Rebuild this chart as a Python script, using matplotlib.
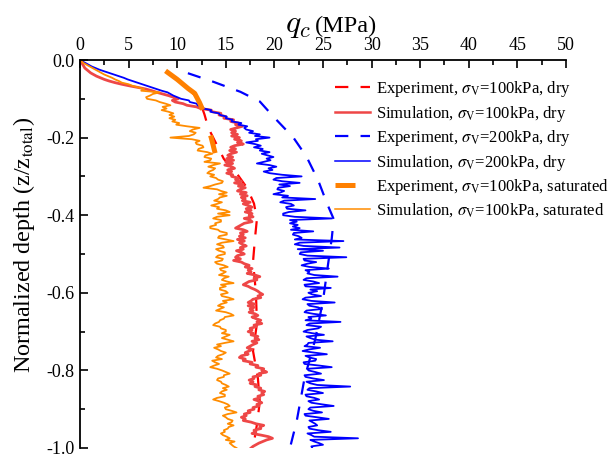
import numpy as np
import matplotlib
matplotlib.use("Agg")
from matplotlib import pyplot as plt
from matplotlib.lines import Line2D
from matplotlib.ticker import MultipleLocator, FormatStrFormatter

plt.rcParams['font.family'] = 'serif'
plt.rcParams['font.serif'] = ['Liberation Serif', 'DejaVu Serif']
plt.rcParams['mathtext.fontset'] = 'stix'
plt.rcParams['axes.unicode_minus'] = False

# simulated cone resistance (MPa), sampled every 1/240 of the normalized depth
# one row per 0.05 of depth
n_sim = 241
sim_100_dry = [
    0.0, 0.1, 0.2, 0.3, 0.4, 0.5, 0.7, 0.9, 1.1, 1.4, 1.7, 2.1,
    2.5, 3.0, 3.6, 4.3, 5.1, 6.0, 6.8, 7.4, 7.9, 8.5, 9.1, 9.6,
    10.1, 9.5, 9.8, 10.6, 11.0, 12.0, 12.4, 13.5, 13.6, 14.5, 14.3, 15.0,
    14.8, 15.8, 15.5, 16.3, 16.0, 16.7, 16.1, 15.5, 16.0, 15.6, 16.2, 15.6,
    16.4, 15.9, 16.6, 16.2, 16.8, 15.9, 15.5, 16.0, 15.4, 16.1, 15.5, 15.2,
    15.7, 15.1, 15.8, 15.0, 15.7, 14.9, 15.6, 15.9, 15.2, 15.6, 15.1, 15.7,
    15.6, 16.3, 16.0, 16.6, 15.9, 16.8, 16.3, 17.0, 16.5, 16.2, 17.1, 16.5,
    17.2, 16.6, 17.0, 16.7, 17.5, 16.8, 17.3, 17.7, 17.1, 17.6, 17.0, 17.7,
    17.4, 17.8, 16.9, 17.5, 17.7, 16.9, 16.6, 16.3, 16.0, 16.8, 17.2, 16.5,
    16.8, 16.4, 17.0, 16.2, 16.9, 16.4, 16.7, 17.1, 16.5, 16.8, 16.1, 16.6,
    16.9, 16.2, 16.0, 16.5, 15.8, 16.6, 16.9, 17.4, 17.0, 17.7, 17.3, 17.6,
    17.2, 18.0, 18.5, 17.9, 18.2, 17.4, 17.1, 16.8, 17.3, 17.6, 18.0, 18.3,
    18.5, 18.8, 18.3, 18.6, 17.8, 17.6, 17.3, 18.0, 17.3, 17.9, 17.5, 17.8,
    17.4, 18.0, 18.3, 17.7, 18.1, 18.6, 18.2, 18.7, 17.9, 18.1, 17.5, 17.7,
    17.3, 17.8, 17.6, 18.3, 18.0, 18.4, 17.7, 18.2, 17.8, 17.5, 17.2, 17.7,
    17.4, 17.0, 17.3, 16.6, 16.4, 17.0, 16.8, 17.7, 17.5, 18.3, 18.1, 18.9,
    18.7, 19.2, 18.4, 18.6, 17.8, 17.9, 17.4, 17.8, 17.5, 18.2, 18.0, 18.6,
    18.4, 19.0, 18.7, 18.9, 18.3, 18.5, 17.9, 18.4, 18.7, 18.2, 18.4, 17.8,
    17.9, 17.3, 17.5, 16.9, 17.1, 16.6, 17.0, 16.8, 17.6, 18.1, 18.9, 18.5,
    18.6, 17.9, 18.1, 17.7, 18.6, 19.4, 19.8, 19.2, 18.8, 18.4, 18.1, 17.8,
    17.6,
]
sim_200_dry = [
    0.0, 0.3, 0.6, 0.9, 1.2, 1.6, 2.0, 2.5, 3.0, 3.5, 4.0, 4.5,
    4.9, 5.4, 5.9, 6.4, 6.9, 7.4, 7.9, 8.4, 9.0, 9.3, 9.6, 10.0,
    10.4, 11.2, 11.3, 12.0, 12.1, 12.6, 12.7, 13.5, 13.4, 14.3, 14.4, 15.1,
    15.0, 15.7, 15.6, 16.6, 16.3, 17.2, 16.9, 17.1, 17.8, 17.4, 18.5, 18.0,
    19.5, 18.1, 18.3, 17.1, 18.0, 18.6, 17.9, 18.8, 18.5, 19.5, 18.7, 19.3,
    19.9, 19.2, 19.6, 18.9, 18.2, 19.5, 20.2, 19.4, 19.8, 18.9, 19.5, 20.8,
    22.8, 20.2, 19.9, 20.8, 22.6, 20.5, 21.6, 20.4, 20.3, 21.0, 20.6, 19.9,
    21.4, 20.8, 24.2, 21.0, 20.6, 21.7, 22.0, 21.2, 21.3, 23.2, 21.5, 20.9,
    20.9, 22.1, 25.9, 21.6, 22.3, 21.6, 22.4, 21.9, 22.6, 21.7, 24.0, 22.0,
    21.9, 22.5, 22.8, 22.1, 27.1, 22.6, 22.1, 23.0, 26.7, 22.4, 25.0, 22.7,
    22.6, 23.4, 27.4, 23.0, 23.1, 24.3, 23.4, 22.8, 23.6, 25.6, 23.2, 23.6,
    23.4, 24.1, 26.5, 23.3, 23.0, 24.0, 24.6, 23.1, 23.2, 25.8, 23.7, 24.4,
    23.5, 23.9, 24.8, 23.2, 22.9, 23.8, 26.2, 23.4, 23.6, 24.5, 24.9, 23.3,
    23.1, 24.0, 25.3, 23.5, 23.8, 23.2, 26.8, 23.6, 23.3, 24.8, 24.5, 23.4,
    23.0, 23.9, 25.1, 23.3, 23.7, 24.2, 26.0, 23.5, 23.4, 23.1, 24.7, 23.6,
    22.9, 24.1, 25.4, 23.2, 23.6, 24.3, 24.2, 23.0, 23.1, 24.6, 25.9, 23.4,
    23.5, 24.2, 24.8, 23.1, 23.2, 24.0, 25.1, 23.3, 23.7, 24.4, 27.8, 23.6,
    23.4, 24.3, 25.0, 23.2, 23.3, 24.1, 24.6, 23.5, 23.8, 24.9, 26.1, 23.7,
    23.5, 24.0, 24.9, 23.1, 23.2, 24.4, 25.6, 23.6, 23.9, 24.2, 24.4, 23.5,
    23.6, 24.5, 25.8, 23.4, 23.8, 24.1, 28.6, 23.7, 24.1, 24.6, 25.0, 23.8,
    23.9,
]
sim_100_sat = [
    0.0, 0.2, 0.4, 0.7, 1.0, 1.3, 1.6, 1.9, 2.2, 2.5, 2.9, 3.3,
    3.6, 4.0, 4.3, 5.0, 5.4, 6.0, 6.6, 6.3, 8.2, 7.5, 7.2, 6.8,
    6.9, 7.8, 8.2, 8.8, 9.3, 8.5, 8.9, 8.4, 9.1, 9.6, 9.2, 9.7,
    9.2, 9.8, 9.5, 10.2, 9.9, 11.0, 12.3, 11.6, 11.3, 11.9, 11.7, 11.2,
    9.3, 11.5, 12.3, 11.9, 12.0, 12.6, 12.7, 12.2, 12.1, 13.1, 13.6, 12.9,
    12.8, 13.5, 13.4, 12.8, 14.4, 13.7, 13.2, 13.9, 13.7, 13.3, 13.1, 13.8,
    13.4, 14.0, 14.2, 14.7, 14.6, 13.9, 13.4, 12.7, 14.1, 14.5, 15.1, 14.3,
    15.1, 14.4, 14.2, 13.8, 14.6, 14.1, 13.5, 14.3, 14.1, 15.0, 15.4, 14.2,
    15.4, 14.1, 13.7, 14.5, 14.5, 13.9, 14.0, 13.4, 13.4, 14.2, 14.4, 15.1,
    15.1, 14.3, 14.2, 15.0, 15.8, 14.6, 14.1, 14.7, 14.8, 14.0, 14.3, 14.9,
    14.9, 14.2, 14.0, 14.7, 14.6, 13.9, 14.1, 14.8, 15.2, 14.4, 14.5, 15.0,
    14.7, 14.3, 15.3, 14.8, 14.6, 15.1, 15.8, 14.5, 15.0, 14.4, 14.4, 15.0,
    15.2, 14.5, 14.6, 15.3, 15.8, 14.7, 15.1, 14.5, 14.2, 14.8, 14.4, 14.0,
    15.0, 15.5, 15.8, 14.9, 14.8, 14.4, 14.3, 13.9, 13.7, 14.4, 14.5, 15.0,
    15.0, 14.6, 15.4, 15.0, 14.6, 15.2, 15.8, 14.9, 14.1, 14.5, 13.8, 14.2,
    14.5, 15.0, 14.7, 14.2, 14.0, 14.6, 13.6, 13.9, 14.3, 13.8, 13.4, 14.1,
    14.6, 15.0, 15.4, 14.8, 14.8, 14.2, 14.1, 14.5, 14.6, 15.0, 15.3, 14.7,
    15.1, 14.6, 14.4, 14.9, 14.9, 14.1, 13.7, 14.3, 14.8, 15.2, 15.4, 14.9,
    15.0, 15.6, 16.1, 15.2, 14.7, 15.0, 15.2, 15.7, 15.6, 15.2, 15.8, 15.3,
    15.2, 14.8, 14.9, 14.5, 14.7, 15.1, 15.4, 15.0, 15.9, 15.4, 15.6, 15.8,
    16.1,
]

# measured profiles
exp_100_dry_depth = [-0.03, -0.055, -0.077, -0.105, -0.14, -0.175, -0.215, -0.255,
                     -0.295, -0.33, -0.37, -0.41, -0.46, -0.52, -0.6, -0.68, -0.75,
                     -0.82, -0.88, -0.94, -1.0]
exp_100_dry = [9.0, 10.3, 11.3, 12.3, 12.8, 13.2, 14.0, 14.8,
               16.2, 17.2, 17.9, 18.2, 18.0, 17.8, 18.1, 18.2, 17.8,
               18.3, 18.5, 18.2, 17.8]
exp_200_dry_depth = [-0.034, -0.056, -0.082, -0.107, -0.146, -0.175, -0.198, -0.249,
                     -0.31, -0.369, -0.41, -0.46, -0.53, -0.62, -0.72, -0.82, -0.93, -1.0]
exp_200_dry = [11.1, 13.7, 16.5, 18.5, 19.9, 21.0, 21.9, 23.3,
               24.5, 25.4, 26.1, 25.9, 25.5, 25.0, 24.2, 23.1, 22.3, 21.6]
exp_100_sat_depth = [-0.028, -0.05, -0.073, -0.086, -0.11, -0.133, -0.17, -0.20, -0.24]
exp_100_sat = [8.8, 10.0, 11.1, 11.8, 12.3, 12.7, 13.1, 13.5, 13.9]

labels = [
    r'Experiment, $\sigma_{\mathrm{V}}$=100kPa, dry',
    r'Simulation, $\sigma_{\mathrm{V}}$=100kPa, dry',
    r'Experiment, $\sigma_{\mathrm{V}}$=200kPa, dry',
    r'Simulation, $\sigma_{\mathrm{V}}$=200kPa, dry',
    r'Experiment, $\sigma_{\mathrm{V}}$=100kPa, saturated',
    r'Simulation, $\sigma_{\mathrm{V}}$=100kPa, saturated',
]

sim_depth = np.linspace(0, -1, n_sim)

fig = plt.figure(figsize=(6.08, 4.57), dpi=100)
ax = fig.add_axes([0.1316, 0.0197, 0.7993, 0.849])

dash = (0, (6, 5.5))
ax.plot(exp_100_dry, exp_100_dry_depth, color='#FF0000', lw=1.6, ls=dash)
ax.plot(sim_100_dry, sim_depth, color='#EE4747', lw=2.0)
ax.plot(exp_200_dry, exp_200_dry_depth, color='#0000FF', lw=1.6, ls=dash)
ax.plot(sim_200_dry, sim_depth, color='#0000FF', lw=1.3)
ax.plot(exp_100_sat, exp_100_sat_depth, color='#FF8000', lw=3.6, ls=(0, (11, 5.4)))
ax.plot(sim_100_sat, sim_depth, color='#FF8C00', lw=1.3)

handles = [
    Line2D([], [], color='#FF0000', lw=1.6, ls=dash),
    Line2D([], [], color='#EE4747', lw=1.8),
    Line2D([], [], color='#0000FF', lw=1.6, ls=dash),
    Line2D([], [], color='#0000FF', lw=1.1),
    Line2D([], [], color='#FF8000', lw=3.6, ls=(0, (4, 10))),
    Line2D([], [], color='#FF8C00', lw=1.1),
]
ax.legend(handles, labels, loc='upper left', bbox_to_anchor=(0.51, 0.968),
          frameon=False, fontsize=12, handlelength=2.1, handletextpad=0.4,
          labelspacing=0.27, borderaxespad=0)

ax.set_xlim(0, 50)
ax.set_ylim(-1.0, 0.0)
ax.xaxis.tick_top()
ax.xaxis.set_major_locator(MultipleLocator(5))
ax.xaxis.set_minor_locator(MultipleLocator(2.5))
ax.yaxis.set_major_locator(MultipleLocator(0.2))
ax.yaxis.set_minor_locator(MultipleLocator(0.1))
ax.yaxis.set_major_formatter(FormatStrFormatter('%.1f'))
ax.tick_params(which='both', direction='in', top=True, bottom=False,
               left=True, right=False, width=1.2, labelsize=13, pad=4)
ax.tick_params(which='major', length=6)
ax.tick_params(which='minor', length=3.5)
for side in ['bottom', 'right']:
    ax.spines[side].set_visible(False)
for side in ['top', 'left']:
    ax.spines[side].set_linewidth(1.3)

# axis title above the top axis: italic q_c followed by the unit
fig.text(0.5115, 0.93, r'$q_c$', fontsize=23, math_fontfamily='cm',
         ha='right', va='baseline')
fig.text(0.518, 0.93, '(MPa)', fontsize=17.5, ha='left', va='baseline')

ax.set_ylabel(r'Normalized depth (z/z$_{\mathrm{total}}$)', fontsize=17.4)
ax.yaxis.set_label_coords(-0.089, 0.523)

fig.savefig('out.png', dpi=100)
